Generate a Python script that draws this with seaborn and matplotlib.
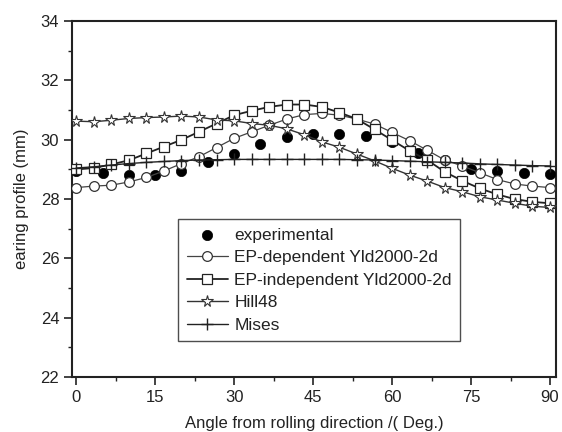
import numpy as np
import pandas as pd
import matplotlib
matplotlib.use("Agg")
import matplotlib.pyplot as plt
import seaborn as sns
from matplotlib.ticker import MultipleLocator

# ---- data ----
exp_angle = [0, 5, 10, 15, 20, 25, 30, 35, 40, 45, 50, 55, 60, 65, 70, 75, 80, 85, 90]
exp_val = [28.96, 28.88, 28.81, 28.80, 28.96, 29.24, 29.53, 29.86, 30.10, 30.21, 30.21,
           30.13, 29.91, 29.57, 29.32, 29.01, 28.95, 28.89, 28.84]

sim_angle = [0.0, 3.33, 6.67, 10.0, 13.33, 16.67, 20.0, 23.33, 26.67, 30.0, 33.33, 36.67,
             40.0, 43.33, 46.67, 50.0, 53.33, 56.67, 60.0, 63.33, 66.67, 70.0, 73.33,
             76.67, 80.0, 83.33, 86.67, 90.0]
ep_dep = [28.39, 28.44, 28.47, 28.58, 28.73, 28.95, 29.20, 29.43, 29.74, 30.05, 30.27,
          30.49, 30.70, 30.85, 30.89, 30.83, 30.70, 30.53, 30.25, 29.97, 29.65, 29.32,
          29.12, 28.89, 28.66, 28.51, 28.44, 28.39]
ep_indep = [29.00, 29.05, 29.17, 29.31, 29.54, 29.77, 30.00, 30.27, 30.55, 30.83, 30.98,
            31.11, 31.19, 31.19, 31.11, 30.92, 30.70, 30.35, 29.99, 29.63, 29.32, 28.92,
            28.62, 28.36, 28.16, 28.00, 27.91, 27.86]
hill48 = [30.63, 30.61, 30.66, 30.72, 30.75, 30.77, 30.80, 30.77, 30.67, 30.64, 30.55,
          30.49, 30.37, 30.17, 29.93, 29.75, 29.52, 29.29, 29.04, 28.81, 28.61, 28.39,
          28.25, 28.08, 27.97, 27.86, 27.76, 27.72]
mises = [29.05, 29.09, 29.15, 29.20, 29.24, 29.27, 29.30, 29.32, 29.33, 29.34, 29.34,
         29.34, 29.34, 29.34, 29.34, 29.34, 29.33, 29.32, 29.30, 29.28, 29.26, 29.24,
         29.22, 29.19, 29.17, 29.15, 29.13, 29.12]

labels = ["experimental", "EP-dependent Yld2000-2d", "EP-independent Yld2000-2d",
          "Hill48", "Mises"]
x_ticks = [0, 15, 30, 45, 60, 75, 90]
y_ticks = [22, 24, 26, 28, 30, 32, 34]

# ---- style ----
sns.set_style("ticks")
plt.rcParams["font.family"] = ["Liberation Sans", "DejaVu Sans"]
FS = 12
ink = "#222222"

fig = plt.figure(figsize=(5.62, 4.32), dpi=100)
ax = fig.add_axes([0.129, 0.127, 0.860, 0.824])

sns.scatterplot(x=exp_angle, y=exp_val, ax=ax, marker="o", s=55, color="black",
                edgecolor="black", linewidth=0.5, label=labels[0], zorder=3)
sns.lineplot(x=sim_angle, y=ep_dep, ax=ax, color="#444444", lw=0.9, marker="o",
             markersize=7, markerfacecolor="white", markeredgecolor="#333333",
             markeredgewidth=0.9, label=labels[1], zorder=4)
sns.lineplot(x=sim_angle, y=ep_indep, ax=ax, color="#222222", lw=1.3, marker="s",
             markersize=6.5, markerfacecolor="white", markeredgecolor="#222222",
             markeredgewidth=0.9, label=labels[2], zorder=4)
sns.lineplot(x=sim_angle, y=hill48, ax=ax, color="#333333", lw=1.0, marker="*",
             markersize=8.5, markerfacecolor="white", markeredgecolor="#333333",
             markeredgewidth=0.8, label=labels[3], zorder=4)
sns.lineplot(x=sim_angle, y=mises, ax=ax, color="#222222", lw=1.0, marker="+",
             markersize=8, markeredgecolor="#222222", markeredgewidth=1.0,
             label=labels[4], zorder=4)

ax.set_xlim(-0.7, 91.1)
ax.set_ylim(22, 34)
ax.set_xticks(x_ticks)
ax.set_yticks(y_ticks)
ax.xaxis.set_minor_locator(MultipleLocator(7.5))
ax.yaxis.set_minor_locator(MultipleLocator(1))
ax.tick_params(which="major", direction="out", length=6, width=1.2, color=ink,
               labelsize=FS, labelcolor=ink, top=False, right=False)
ax.tick_params(which="minor", direction="out", length=3, width=1.0, color=ink,
               top=False, right=False)
for sp in ax.spines.values():
    sp.set_visible(True)
    sp.set_color(ink)
    sp.set_linewidth(1.5)

ax.set_xlabel("Angle from rolling direction /( Deg.)", fontsize=FS, color=ink, labelpad=8)
ax.set_ylabel("earing profile (mm)", fontsize=FS, color=ink, labelpad=8)

leg = ax.legend(loc="upper left", bbox_to_anchor=(0.218, 0.444), borderaxespad=0,
                fontsize=12.5, frameon=True, fancybox=False, edgecolor=ink,
                handlelength=2.4, handletextpad=0.35, labelspacing=0.42,
                borderpad=0.5)
leg.get_frame().set_linewidth(1.0)
for t in leg.get_texts():
    t.set_color(ink)

fig.savefig("out.png", dpi=100)
